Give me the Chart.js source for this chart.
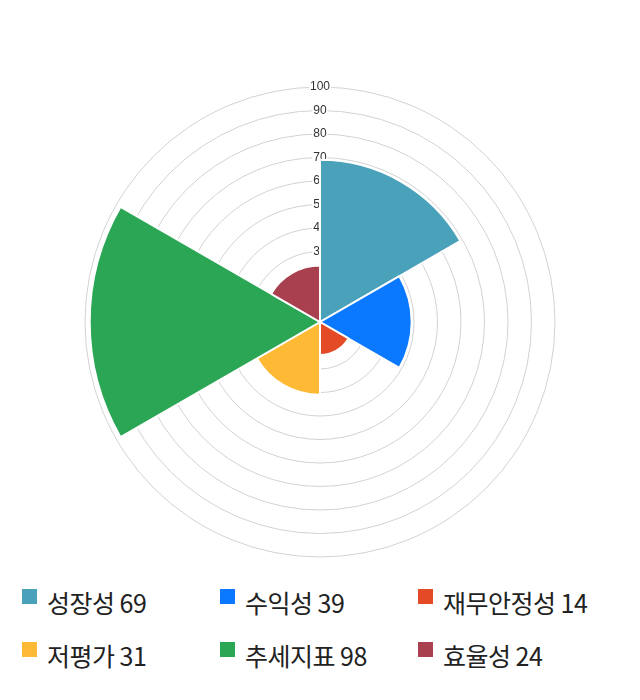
<!DOCTYPE html>
<html>
<head>
<meta charset="utf-8">
<script src="https://cdn.jsdelivr.net/npm/chart.js@4.4.0/dist/chart.umd.min.js"></script>
<style>
  html, body { margin: 0; padding: 0; background: #fff; }
  #wrap { position: relative; width: 640px; height: 570px; }
  #legend {
    display: grid;
    grid-template-columns: 198px 198px 198px;
    padding-left: 22px;
    row-gap: 23px;
    margin-top: 17px;
    font-family: "Noto Sans CJK KR", "Noto Sans", sans-serif;
    font-size: 25px;
    color: #222;
  }
  .item { display: flex; align-items: center; height: 30px; white-space: nowrap; }
  .box { width: 15px; height: 15px; margin-right: 10px; margin-top: -12px; flex-shrink: 0; }
  .item span { letter-spacing: -0.5px; }
</style>
</head>
<body>
<div id="wrap"><canvas id="chart" width="640" height="570"></canvas></div>
<div id="legend"></div>
<script>
// categories and scores
const categories = ['성장성', '수익성', '재무안정성', '저평가', '추세지표', '효율성'];
const scores = [69, 39, 14, 31, 98, 24];
const colors = ['#4aa1ba', '#0a78ff', '#e34a25', '#feb935', '#2ba655', '#a8404f'];

new Chart(document.getElementById('chart').getContext('2d'), {
    type: 'polarArea',
    data: {
        labels: categories,
        datasets: [{
            data: scores,
            backgroundColor: colors,
            borderColor: '#fff',
            borderWidth: 2
        }]
    },
    options: {
        responsive: false,
        animation: false,
        layout: { padding: { top: 80, bottom: 6 } },
        scales: {
            r: {
                min: 0,
                max: 100,
                ticks: {
                    stepSize: 10,
                    color: '#333',
                    font: { size: 12, family: 'Arial, "Liberation Sans", sans-serif' },
                    backdropColor: '#fff',
                    backdropPadding: 1,
                    z: 0
                },
                grid: { color: '#d2d2d2' },
                pointLabels: { display: false }
            }
        },
        plugins: {
            legend: { display: false },
            tooltip: { enabled: false }
        }
    }
});

// HTML legend
const legendDiv = document.getElementById('legend');
categories.forEach((name, i) => {
    const item = document.createElement('div');
    item.className = 'item';
    const box = document.createElement('div');
    box.className = 'box';
    box.style.backgroundColor = colors[i];
    const label = document.createElement('span');
    label.textContent = `${name} ${scores[i]}`;
    item.appendChild(box);
    item.appendChild(label);
    legendDiv.appendChild(item);
});
</script>
</body>
</html>
